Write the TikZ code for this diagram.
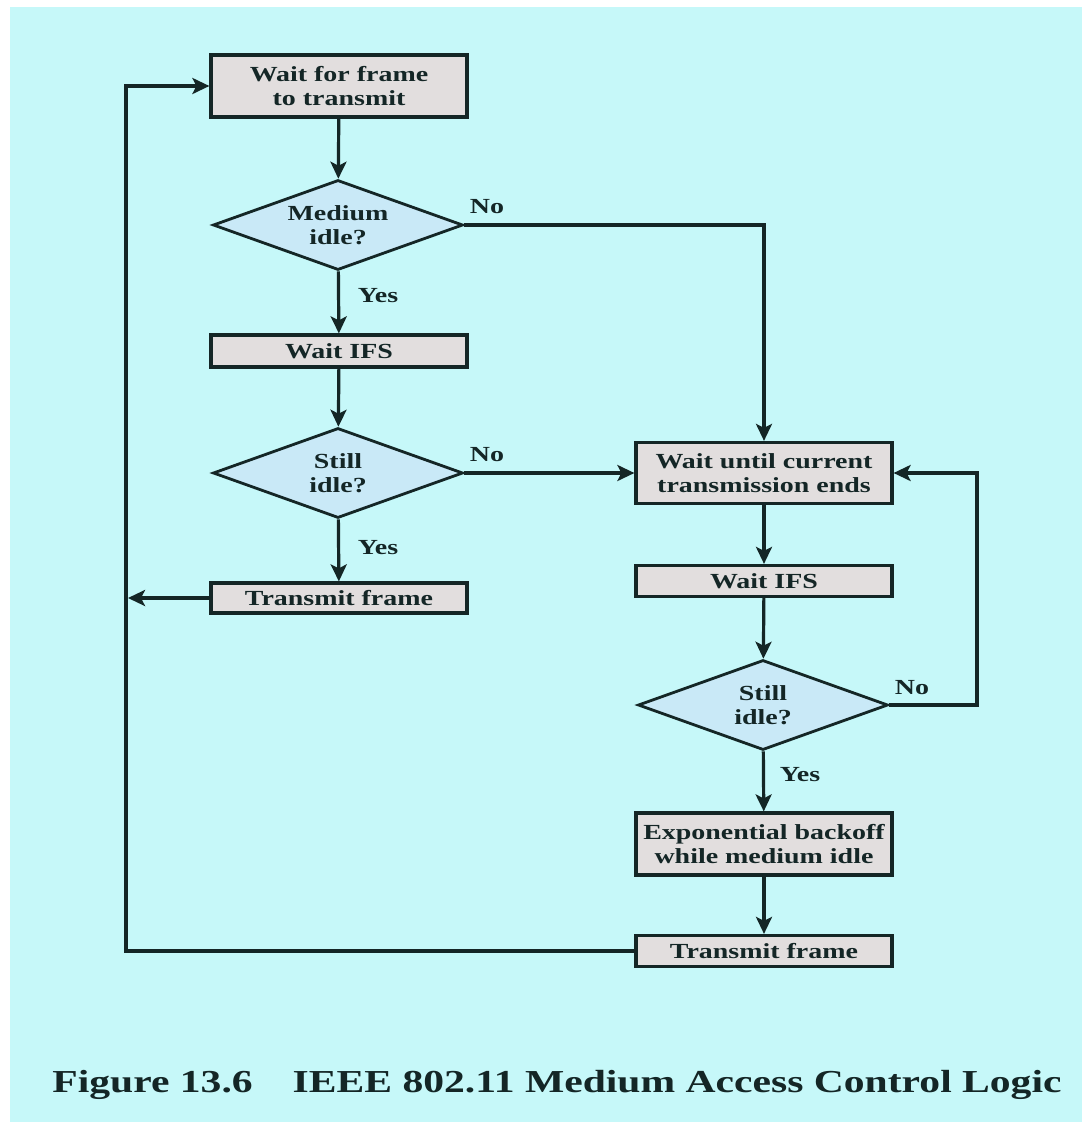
\documentclass[tikz,border=0pt]{standalone}
\usepackage{fontspec}
\setmainfont{Liberation Serif}
\newfontfamily\flowfont[FakeStretch=1.3]{Liberation Serif}
\usetikzlibrary{shapes.geometric,arrows.meta}
\definecolor{bgcyan}{HTML}{C6F8F9}
\definecolor{boxgray}{HTML}{E2DEDE}
\definecolor{decblue}{HTML}{C9E9F7}
\definecolor{ink}{HTML}{142626}
\tikzset{
  flowtext/.style={font=\flowfont\bfseries\fontsize{21.5}{24}\selectfont, text=ink, align=center},
  procbox/.style={flowtext, rectangle, draw=ink, line width=3.2pt, fill=boxgray,
    minimum width=256pt, inner sep=0pt},
  decision/.style={flowtext, diamond, draw=ink, line width=2.8pt, fill=decblue,
    minimum width=250pt, minimum height=90pt, shape aspect=2.78, inner sep=0pt},
  flow/.style={draw=ink, line width=3.2pt, -{Stealth[length=17pt,width=16pt,inset=4pt]}},
  answer/.style={flowtext, inner sep=0pt}
}
\begin{document}
\begin{tikzpicture}[x=1pt,y=-1pt]
  % page and background
  \useasboundingbox (0,0) rectangle (1082,1122);
  \fill[white] (0,0) rectangle (1082,1122);
  \fill[bgcyan] (10,7) rectangle (1082,1122);

  % left column
  \node[procbox, minimum height=62pt] (wait) at (339,86) {Wait for frame\\to transmit};
  \node[decision] (idle) at (338,225) {Medium\\idle?};
  \node[procbox, minimum height=32pt] (ifsA) at (339,351) {Wait IFS};
  \node[decision] (stillA) at (338,473) {Still\\idle?};
  \node[procbox, minimum height=30pt] (txA) at (339,598) {Transmit frame};

  % right column
  \node[procbox, minimum height=61pt] (busy) at (764,473) {Wait until current\\transmission ends};
  \node[procbox, minimum height=31pt] (ifsB) at (764,581) {Wait IFS};
  \node[decision] (stillB) at (763,705) {Still\\idle?};
  \node[procbox, minimum height=62pt] (backoff) at (764,844) {Exponential backoff\\while medium idle};
  \node[procbox, minimum height=31pt] (txB) at (764,951) {Transmit frame};

  % end of the return arrow on the left rail
  \coordinate (railL) at (128,598);

  % connectors
  \draw[flow] (wait) -- (idle);
  \draw[flow] (idle) -- (ifsA);
  \draw[flow] (idle.east) -| (busy.north);
  \draw[flow] (ifsA) -- (stillA);
  \draw[flow] (stillA.east) -- (busy.west);
  \draw[flow] (stillA) -- (txA);
  \draw[flow] (txA.west) -- (railL);
  \draw[flow] (busy) -- (ifsB);
  \draw[flow] (ifsB) -- (stillB);
  \draw[flow] (stillB.east) -- (977,705) |- (busy.east);
  \draw[flow] (stillB) -- (backoff);
  \draw[flow] (backoff) -- (txB);
  \draw[flow] (txB.west) -- (126,951) |- (wait.west);

  % branch labels
  \node[answer] (noA) at (487,207) {No};
  \node[answer] (yesA) at (378,296) {Yes};
  \node[answer] (noB) at (487,455) {No};
  \node[answer] (yesB) at (378,548) {Yes};
  \node[answer] (noC) at (912,688) {No};
  \node[answer] (yesC) at (800,775) {Yes};

  % caption
  \node[text=ink, font=\flowfont\bfseries\fontsize{32}{36}\selectfont, inner sep=0pt] (caption) at (557,1085)
    {Figure 13.6\hspace{1.25em}IEEE 802.11 Medium Access Control Logic};
\end{tikzpicture}
\end{document}
